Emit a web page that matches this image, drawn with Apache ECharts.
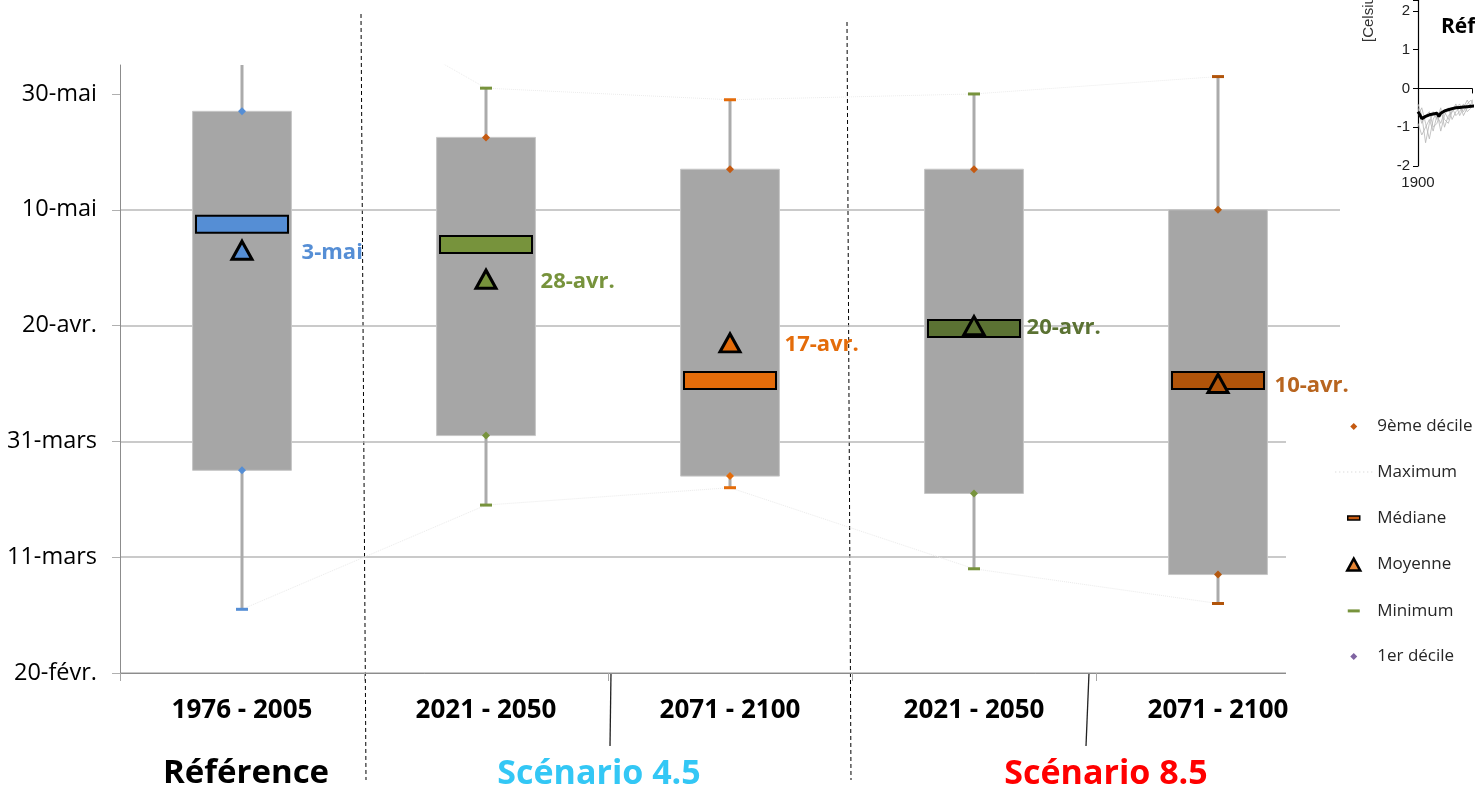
<!DOCTYPE html>
<html lang="fr">
<head>
<meta charset="utf-8">
<title>Date de débourrement</title>
<script src="https://cdn.jsdelivr.net/npm/echarts@6/dist/echarts.min.js"></script>
<style>
  html, body { margin: 0; padding: 0; background: #fff; }
  #chart { width: 1475px; height: 789px; }
</style>
</head>
<body>
<div id="chart"></div>
<script>
// Periods on the horizontal axis
const periods = ['1976 - 2005', '2021 - 2050', '2071 - 2100', '2021 - 2050', '2071 - 2100'];

// Statistics, in days after 20 February
const maximum = [125, 101, 99, 100, 103];
const decile9 = [97, 92.5, 87, 87, 80];
const median = [77.5, 74, 50.5, 59.5, 50.5];
const mean = [73, 68, 57, 60, 50];
const decile1 = [35, 41, 34, 31, 17];
const minimum = [11, 29, 32, 18, 12];

// Vertical axis tick labels (every 20 days)
const dateTicks = ['20-févr.', '11-mars', '31-mars', '20-avr.', '10-mai', '30-mai'];

// Small temperature anomaly panel: ensemble mean and a few members
const anomalyYears = [1900, 1901, 1902, 1903, 1904, 1906, 1908, 1910, 1911, 1912, 1914, 1916, 1918, 1920, 1922, 1924, 1926, 1928, 1930];
const anomalyMean = [-0.6, -0.68, -0.78, -0.74, -0.72, -0.68, -0.66, -0.64, -0.72, -0.64, -0.58, -0.55, -0.52, -0.5, -0.49, -0.48, -0.47, -0.46, -0.45];
const memberYears = [1900, 1902, 1904, 1906, 1908, 1910, 1912, 1914, 1916, 1918, 1920, 1922, 1924, 1926, 1928, 1930];
const memberA = [-0.9, -1.2, -1.0, -0.8, -1.1, -0.7, -0.9, -0.6, -0.8, -0.5, -0.7, -0.6, -0.4, -0.6, -0.5, -0.4];
const memberB = [-0.4, -0.7, -1.4, -0.9, -0.6, -0.8, -0.5, -1.0, -0.7, -0.6, -0.4, -0.7, -0.5, -0.3, -0.5, -0.4];
const memberC = [-0.7, -0.5, -0.9, -1.3, -0.8, -0.6, -1.1, -0.7, -0.5, -0.8, -0.6, -0.5, -0.6, -0.4, -0.3, -0.5];
const memberD = [-0.5, -0.9, -0.7, -0.6, -1.0, -0.9, -0.6, -0.8, -0.9, -0.6, -0.5, -0.4, -0.7, -0.5, -0.4, -0.2];

// Colours per period
const medianColors = ['#558ed5', '#77933c', '#e46c0a', '#5b7233', '#b1540a'];
const meanColors = ['#558ed5', '#77933c', '#e46c0a', '#5b7233', '#b1540a'];
const labelColors = ['#558ed5', '#77933c', '#e46c0a', '#5b7233', '#b8651f'];
const upperDecileColors = ['#558ed5', '#c55a11', '#c55a11', '#c55a11', '#b5590f'];
const lowerDecileColors = ['#558ed5', '#77933c', '#e46c0a', '#77933c', '#b5590f'];
const extremeColors = ['#558ed5', '#77933c', '#e46c0a', '#77933c', '#b1540a'];
const labelDistances = [48, 43, 43, 41, 45];

const MONTHS = ['janv.', 'févr.', 'mars', 'avr.', 'mai', 'juin', 'juil.', 'août', 'sept.', 'oct.', 'nov.', 'déc.'];
function dayLabel(offset) {
  // day 0 is 20 February (leap-year calendar)
  const d = new Date(Date.UTC(2000, 1, 20 + Math.round(offset)));
  return d.getUTCDate() + '-' + MONTHS[d.getUTCMonth()];
}

const tickValues = dateTicks.map((_, i) => i * 20);
const FONT = 'Open Sans';

// grey box from 1st to 9th decile, whisker from minimum to maximum
function renderBox(params, api) {
  const x = api.value(0);
  const pMin = api.coord([x, api.value(1)]);
  const pLow = api.coord([x, api.value(2)]);
  const pHigh = api.coord([x, api.value(3)]);
  const pMax = api.coord([x, api.value(4)]);
  const w = api.size([1, 0])[0] * 0.405;
  return {
    type: 'group',
    children: [
      { type: 'line', shape: { x1: pMax[0], y1: pMax[1], x2: pMin[0], y2: pMin[1] },
        style: { stroke: '#ababab', lineWidth: 3 } },
      { type: 'rect', shape: { x: pHigh[0] - w / 2, y: pHigh[1], width: w, height: pLow[1] - pHigh[1] },
        style: { fill: '#a6a6a6', stroke: '#c6c6c6', lineWidth: 1 } }
    ]
  };
}

// median bar
function renderMedian(params, api) {
  const p = api.coord([api.value(0), api.value(1)]);
  const w = api.size([1, 0])[0] * 0.377;
  const h = 17;
  return {
    type: 'rect',
    shape: { x: p[0] - w / 2, y: p[1] - h / 2, width: w, height: h },
    style: { fill: medianColors[params.dataIndex], stroke: '#000', lineWidth: 2 }
  };
}

function dots(y) {
  let s = '';
  for (let x = 0; x <= 36; x += 4) s += 'M' + x + ',' + y + 'h1v1h-1z';
  return s;
}
const BOX = 'path://M0,0M37,16';

const chart = echarts.init(document.getElementById('chart'), null, { renderer: 'canvas' });
chart.setOption({
  animation: false,
  backgroundColor: '#fff',
  textStyle: { fontFamily: FONT },
  grid: [
    { left: 120, right: 135, top: 65, bottom: 116 },
    { left: 1418, top: 0, right: 0, height: 166 }
  ],
  xAxis: [
    {
      type: 'category', gridIndex: 0, data: periods, boundaryGap: true,
      axisLine: { lineStyle: { color: '#8c8c8c', width: 1 } },
      axisTick: { show: true, length: 8, lineStyle: { color: '#a6a6a6' } },
      axisLabel: { fontFamily: FONT, fontWeight: 'bold', fontSize: 26, color: '#000', margin: 25 }
    },
    {
      type: 'value', gridIndex: 1, min: 1900, max: 1928.5, interval: 50,
      axisLine: { lineStyle: { color: '#000', width: 1.2 } },
      axisTick: { show: true, length: 5, lineStyle: { color: '#000' } },
      axisLabel: {
        fontFamily: 'Liberation Sans', fontSize: 15, color: '#222', margin: 9,
        formatter: v => (v % 50 === 0 ? String(v) : '')
      },
      splitLine: { show: false }
    }
  ],
  yAxis: [
    {
      type: 'value', gridIndex: 0, min: 0, max: 105, interval: 20,
      axisLine: { show: true, lineStyle: { color: '#8c8c8c', width: 1 } },
      axisTick: { show: true, length: 8, customValues: tickValues, lineStyle: { color: '#b0b0b0' } },
      axisLabel: {
        fontFamily: FONT, fontSize: 23.5, color: '#000', margin: 23,
        customValues: tickValues,
        formatter: v => dateTicks[Math.round(v / 20)] || ''
      },
      splitLine: { show: true, showMaxLine: false, lineStyle: { color: '#b8b8b8', width: 1.5 } }
    },
    {
      type: 'value', gridIndex: 1, min: -2, max: 2.28, interval: 1,
      axisLine: { show: true, lineStyle: { color: '#000', width: 1.2 } },
      axisTick: { show: true, length: 5, lineStyle: { color: '#000' } },
      axisLabel: {
        fontFamily: 'Liberation Sans', fontSize: 15, color: '#222', margin: 8,
        formatter: v => (Number.isInteger(v) ? String(v) : '')
      },
      splitLine: { show: false }
    }
  ],
  legend: {
    orient: 'vertical', left: 1286, top: 398,
    padding: [20, 10, 24, 48],
    itemWidth: 37, itemHeight: 16, itemGap: 28.6,
    backgroundColor: '#fff',
    selectedMode: false,
    textStyle: { fontFamily: FONT, fontSize: 17, color: '#262626', lineHeight: 16 },
    data: [
      { name: '9ème décile', icon: BOX + 'M18.5,4.5L22,8L18.5,11.5L15,8Z', itemStyle: { color: '#c55a11', borderWidth: 0 } },
      { name: 'Maximum', icon: BOX + dots(7.5), itemStyle: { color: '#cfcfcf', borderWidth: 0 } },
      { name: 'Médiane', icon: BOX + 'M12.5,6h12v4h-12z', itemStyle: { color: '#c55a11', borderColor: '#000', borderWidth: 1.5 } },
      { name: 'Moyenne', icon: BOX + 'M18.5,2L25,14H12Z', itemStyle: { color: '#e58535', borderColor: '#000', borderWidth: 2.5 } },
      { name: 'Minimum', icon: BOX + 'M12.5,6.5h12v3h-12z', itemStyle: { color: '#77933c', borderWidth: 0 } },
      { name: '1er décile', icon: BOX + 'M18.5,4.5L22,8L18.5,11.5L15,8Z', itemStyle: { color: '#8064a2', borderWidth: 0 } }
    ]
  },
  graphic: [
    // group separators
    { type: 'line', silent: true, shape: { x1: 361, y1: 14, x2: 366, y2: 780 }, style: { stroke: '#000', lineWidth: 1, lineDash: [4, 3] } },
    { type: 'line', silent: true, shape: { x1: 847, y1: 22, x2: 851, y2: 780 }, style: { stroke: '#000', lineWidth: 1, lineDash: [4, 3] } },
    { type: 'line', silent: true, shape: { x1: 611, y1: 673, x2: 610, y2: 746 }, style: { stroke: '#222', lineWidth: 1.3 } },
    { type: 'line', silent: true, shape: { x1: 1089, y1: 673, x2: 1086, y2: 746 }, style: { stroke: '#222', lineWidth: 1.3 } },
    // group titles
    { type: 'text', silent: true, x: 246, y: 774, style: { text: 'Référence', fill: '#000', font: 'bold 33px "Open Sans"', textAlign: 'center', textVerticalAlign: 'middle' } },
    { type: 'text', silent: true, x: 599, y: 774, style: { text: 'Scénario 4.5', fill: '#33c7f5', font: 'bold 34px "Open Sans"', textAlign: 'center', textVerticalAlign: 'middle' } },
    { type: 'text', silent: true, x: 1106, y: 774, style: { text: 'Scénario 8.5', fill: '#ff0000', font: 'bold 34px "Open Sans"', textAlign: 'center', textVerticalAlign: 'middle' } },
    // anomaly panel texts
    { type: 'text', silent: true, x: 1369, y: 42, rotation: Math.PI / 2, style: { text: '[Celsius]', fill: '#333', font: '15px "Liberation Sans"', textAlign: 'left', textVerticalAlign: 'middle' } },
    { type: 'text', silent: true, x: 1441, y: 27, style: { text: 'Référence', fill: '#000', font: 'bold 21px "Open Sans"', textAlign: 'left', textVerticalAlign: 'middle' } }
  ],
  series: [
    {
      type: 'custom', name: 'Boîte', xAxisIndex: 0, yAxisIndex: 0, clip: true, silent: true, z: 2,
      renderItem: renderBox,
      encode: { x: 0, y: [1, 2, 3, 4] },
      data: periods.map((_, i) => [i, minimum[i], decile1[i], decile9[i], maximum[i]])
    },
    {
      type: 'line', name: 'Maximum', xAxisIndex: 0, yAxisIndex: 0, z: 3, silent: true,
      symbol: 'rect', symbolSize: [12, 3], showSymbol: true,
      lineStyle: { color: '#ebebeb', width: 1, type: 'dotted' },
      itemStyle: { color: '#cfcfcf', opacity: 1 },
      data: maximum.map((v, i) => ({ value: v, itemStyle: { color: extremeColors[i] } }))
    },
    {
      type: 'line', name: 'Minimum', xAxisIndex: 0, yAxisIndex: 0, z: 3, silent: true,
      symbol: 'rect', symbolSize: [12, 3], showSymbol: true,
      lineStyle: { color: '#ebebeb', width: 1, type: 'dotted' },
      itemStyle: { color: '#77933c', opacity: 1 },
      data: minimum.map((v, i) => ({ value: v, itemStyle: { color: extremeColors[i] } }))
    },
    {
      type: 'scatter', name: '9ème décile', xAxisIndex: 0, yAxisIndex: 0, z: 4, silent: true,
      symbol: 'diamond', symbolSize: 8,
      itemStyle: { color: '#c55a11', opacity: 1 },
      data: decile9.map((v, i) => ({ value: v, itemStyle: { color: upperDecileColors[i] } }))
    },
    {
      type: 'scatter', name: '1er décile', xAxisIndex: 0, yAxisIndex: 0, z: 4, silent: true,
      symbol: 'diamond', symbolSize: 8,
      itemStyle: { color: '#8064a2', opacity: 1 },
      data: decile1.map((v, i) => ({ value: v, itemStyle: { color: lowerDecileColors[i] } }))
    },
    {
      type: 'custom', name: 'Médiane', xAxisIndex: 0, yAxisIndex: 0, z: 5, silent: true,
      renderItem: renderMedian,
      itemStyle: { color: '#c55a11' },
      encode: { x: 0, y: 1 },
      data: median.map((v, i) => [i, v])
    },
    {
      type: 'scatter', name: 'Moyenne', xAxisIndex: 0, yAxisIndex: 0, z: 6, silent: true,
      symbol: 'triangle', symbolSize: [20, 18],
      itemStyle: { color: '#e58535', borderColor: '#000', borderWidth: 3, opacity: 1 },
      label: {
        show: true, position: 'right', offset: [0, 2],
        fontFamily: FONT, fontWeight: 'bold', fontSize: 22,
        formatter: p => dayLabel(p.value)
      },
      data: mean.map((v, i) => ({
        value: v,
        itemStyle: { color: meanColors[i] },
        label: { color: labelColors[i], distance: labelDistances[i] }
      }))
    },
    // anomaly panel
    ...[memberA, memberB, memberC, memberD].map(m => ({
      type: 'line', xAxisIndex: 1, yAxisIndex: 1, silent: true, symbol: 'none', z: 2,
      lineStyle: { color: '#b5b5b5', width: 0.8 },
      data: memberYears.map((y, i) => [y, m[i]])
    })),
    {
      type: 'line', xAxisIndex: 1, yAxisIndex: 1, silent: true, symbol: 'none', z: 3,
      lineStyle: { color: '#000', width: 3 },
      data: anomalyYears.map((y, i) => [y, anomalyMean[i]]),
      markLine: {
        silent: true, symbol: 'none', label: { show: false },
        lineStyle: { color: '#000', type: [6, 5], width: 1.2 },
        data: [{ yAxis: 0 }]
      }
    }
  ]
});
</script>
</body>
</html>
